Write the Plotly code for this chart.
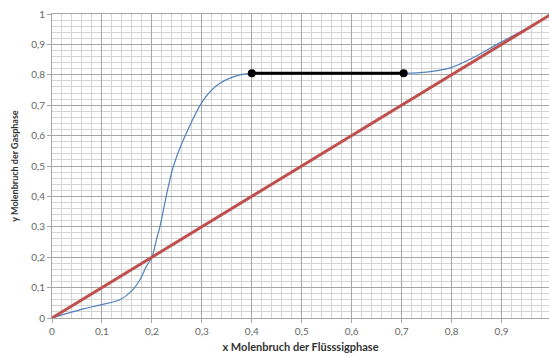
import plotly.graph_objects as go

# Equilibrium curve (blue)
x_eq = [0.0, 0.03, 0.065, 0.1, 0.136, 0.16, 0.176, 0.189, 0.2, 0.209, 0.216, 0.23, 0.243, 0.263, 0.303, 0.336,
        0.376, 0.4, 0.5, 0.6, 0.704, 0.75, 0.796, 0.842, 0.896, 0.95, 1.0]
y_eq = [0.0, 0.015, 0.031, 0.044, 0.06, 0.09, 0.126, 0.17, 0.2, 0.257, 0.30, 0.411, 0.499, 0.586, 0.717, 0.772,
        0.8, 0.805, 0.805, 0.805, 0.805, 0.809, 0.822, 0.855, 0.905, 0.952, 1.0]

# Diagonal (red)
x_diag = [0.0, 1.0]
y_diag = [0.0, 1.0]

# Tie line (black)
x_tie = [0.4, 0.704]
y_tie = [0.805, 0.805]

x_ticks = [0, 0.1, 0.2, 0.3, 0.4, 0.5, 0.6, 0.7, 0.8, 0.9, 1.0]
y_ticks = [0, 0.1, 0.2, 0.3, 0.4, 0.5, 0.6, 0.7, 0.8, 0.9, 1.0]

FONT = "Lato, Open Sans, sans-serif"

fig = go.Figure()
fig.add_trace(go.Scatter(x=x_eq, y=y_eq, mode="lines",
                         line=dict(color="#4f81bd", width=1.2, shape="spline", smoothing=0.8),
                         showlegend=False, hoverinfo="skip"))
fig.add_trace(go.Scatter(x=x_diag, y=y_diag, mode="lines",
                         line=dict(color="#c0504d", width=3),
                         showlegend=False, hoverinfo="skip"))
fig.add_trace(go.Scatter(x=x_tie, y=y_tie, mode="lines+markers",
                         line=dict(color="#000000", width=3),
                         marker=dict(color="#000000", size=8),
                         showlegend=False, hoverinfo="skip"))

axis_common = dict(
    showgrid=True, gridcolor="#a6a6a6", gridwidth=1,
    minor=dict(dtick=0.02, showgrid=True, gridcolor="#d4d4d4", gridwidth=1),
    showline=True, linecolor="#a6a6a6", linewidth=1, mirror=True,
    ticks="outside", ticklen=4, tickcolor="#a6a6a6",
    tickfont=dict(family=FONT, size=10, color="#666666"),
    zeroline=False,
)

fig.update_layout(
    width=549, height=358,
    margin=dict(l=52, r=0, t=14, b=40),
    paper_bgcolor="white", plot_bgcolor="white",
    separators=", ",
    xaxis=dict(range=[0, 0.995], tickvals=x_ticks,
               title=dict(text="<b>x Molenbruch der Flüsssigphase</b>", standoff=7,
                          font=dict(family=FONT, size=11, color="#333333")),
               **axis_common),
    yaxis=dict(range=[0, 1.0], tickvals=y_ticks,
               title=dict(text="<b>y Molenbruch der Gasphase</b>", standoff=10,
                          font=dict(family=FONT, size=9, color="#333333")),
               **axis_common),
)

fig.write_html("out.html")
